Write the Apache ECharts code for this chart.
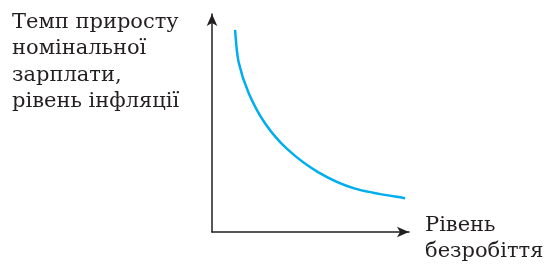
<!DOCTYPE html>
<html>
<head>
<meta charset="utf-8">
<script src="https://cdn.jsdelivr.net/npm/echarts@6/dist/echarts.min.js"></script>
<style>
  html, body { margin: 0; padding: 0; background: #fff; }
  #chart { width: 544px; height: 265px; }
</style>
</head>
<body>
<div id="chart"></div>
<script>
// крива Філліпса (у відносних одиницях)
const unemployment = [11.7, 13.5, 18.6, 26.9, 38.1, 53.8, 72.6, 98.0];
const inflation = [92.7, 78.0, 63.8, 49.9, 38.1, 27.5, 19.9, 15.5];

const yTitle = 'Темп приросту\nномінальної\nзарплати,\nрівень інфляції';
const xTitle = 'Рівень\nбезробіття';

const ink = '#231f20';
const curveColor = '#00aeef';

let myChart = echarts.init(document.getElementById('chart'), null, { renderer: 'canvas' });

let points = unemployment.map((u, i) => [u, inflation[i]]);

// крива через точки (Catmull-Rom), координати беремо з осей графіка
function renderCurve(params, api) {
  if (params.dataIndex !== 0) return;
  let px = points.map(p => api.coord(p));
  let d = 'M' + px[0][0] + ' ' + px[0][1];
  for (let i = 0; i < px.length - 1; i++) {
    let p0 = px[Math.max(i - 1, 0)];
    let p1 = px[i];
    let p2 = px[i + 1];
    let p3 = px[Math.min(i + 2, px.length - 1)];
    let c1x = p1[0] + (p2[0] - p0[0]) / 6;
    let c1y = p1[1] + (p2[1] - p0[1]) / 6;
    let c2x = p2[0] - (p3[0] - p1[0]) / 6;
    let c2y = p2[1] - (p3[1] - p1[1]) / 6;
    d += ' C' + c1x + ' ' + c1y + ' ' + c2x + ' ' + c2y + ' ' + p2[0] + ' ' + p2[1];
  }
  return {
    type: 'path',
    shape: { pathData: d },
    style: { fill: 'none', stroke: curveColor, lineWidth: 2.5 }
  };
}

let option = {
  animation: false,
  grid: { left: 212, right: 135, top: 14, bottom: 33 },
  xAxis: {
    type: 'value', min: 0, max: 100,
    axisLine: { show: true, symbol: ['none', 'arrow'], symbolSize: [8, 12], lineStyle: { color: ink, width: 1.5 } },
    axisTick: { show: false }, axisLabel: { show: false }, splitLine: { show: false }
  },
  yAxis: {
    type: 'value', min: 0, max: 100,
    axisLine: { show: true, symbol: ['none', 'arrow'], symbolSize: [8, 12], lineStyle: { color: ink, width: 1.5 } },
    axisTick: { show: false }, axisLabel: { show: false }, splitLine: { show: false }
  },
  series: [
    {
      type: 'custom',
      data: points,
      renderItem: renderCurve
    }
  ],
  graphic: [
    {
      type: 'text', left: 12, top: 9,
      style: { text: yTitle, fill: ink, font: '21px "DejaVu Serif"', lineHeight: 26.5 }
    },
    {
      type: 'text', left: 425, top: 213,
      style: { text: xTitle, fill: ink, font: '21px "DejaVu Serif"', lineHeight: 26 }
    }
  ]
};

myChart.setOption(option);
window.addEventListener('resize', myChart.resize);
</script>
</body>
</html>
